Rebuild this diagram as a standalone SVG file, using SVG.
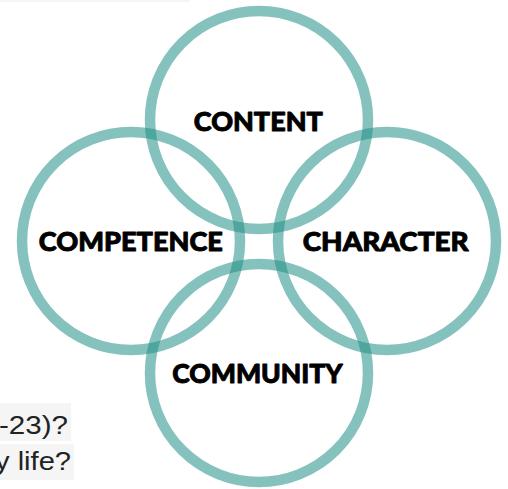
<svg xmlns="http://www.w3.org/2000/svg" width="508" height="489" viewBox="0 0 508 489">
  <style>
    .ring { fill: none; stroke: rgb(33,144,135); stroke-opacity: 0.55; stroke-width: 10.5; }
    .label { font-family: "Lato", "Inter", "Liberation Sans", sans-serif; font-weight: 900; font-size: 27px; fill: #000; stroke: #000; stroke-width: 0.9; stroke-linejoin: round; text-anchor: middle; }
    .bg { fill: #f5f5f5; }
    .page { font-family: "Liberation Sans", Arial, sans-serif; font-size: 26px; fill: #222; }
  </style>
  <rect width="508" height="489" fill="#fff"/>
  <g id="page-fragments">
    <rect class="bg" x="0" y="0" width="189" height="2"/>
    <rect class="bg" x="0" y="403" width="71" height="38"/>
    <rect class="bg" x="0" y="444" width="74" height="36"/>
    <text class="page" x="-1" y="434" textLength="69" lengthAdjust="spacingAndGlyphs">-23)?</text>
    <text class="page" x="-5" y="470" textLength="76" lengthAdjust="spacingAndGlyphs">y life?</text>
  </g>
  <g id="connectors"></g>
  <g id="content">
    <circle class="ring" cx="259" cy="120" r="109"/>
    <text class="label" x="258.3" y="130.5" textLength="129" lengthAdjust="spacingAndGlyphs">CONTENT</text>
  </g>
  <g id="competence">
    <circle class="ring" cx="131" cy="241" r="109"/>
    <text class="label" x="130.8" y="250.5" textLength="184" lengthAdjust="spacingAndGlyphs">COMPETENCE</text>
  </g>
  <g id="character">
    <circle class="ring" cx="387" cy="241" r="109"/>
    <text class="label" x="385.7" y="250.5" textLength="166" lengthAdjust="spacingAndGlyphs">CHARACTER</text>
  </g>
  <g id="community">
    <circle class="ring" cx="259" cy="373" r="109"/>
    <text class="label" x="257.5" y="382.5" textLength="170.6" lengthAdjust="spacingAndGlyphs">COMMUNITY</text>
  </g>
</svg>
